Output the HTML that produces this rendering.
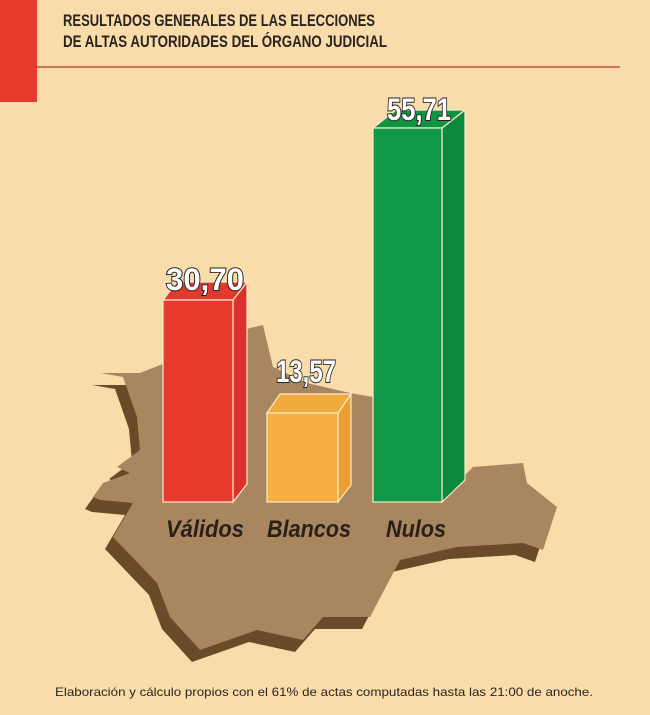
<!DOCTYPE html>
<html><head><meta charset="utf-8"><style>
html,body{margin:0;padding:0;background:#f9dcaa;}
svg{display:block}
</style></head><body>
<svg width="650" height="715" viewBox="0 0 650 715" xmlns="http://www.w3.org/2000/svg">
<rect width="650" height="715" fill="#f9dcaa"/>
<rect x="0" y="0" width="37" height="102" fill="#e8392f"/>
<line x1="37" y1="67" x2="620" y2="67" stroke="#c9474a" stroke-width="1.5"/>
<g font-family="Liberation Sans, sans-serif" font-weight="bold" font-size="17" fill="#2a2420">
<text x="63" y="26" textLength="312" lengthAdjust="spacingAndGlyphs">RESULTADOS GENERALES DE LAS ELECCIONES</text>
<text x="63" y="47" textLength="324" lengthAdjust="spacingAndGlyphs">DE ALTAS AUTORIDADES DEL ÓRGANO JUDICIAL</text>
</g>
<g transform="translate(-8,12)">
<polygon fill="#6b4a2a" points="100,373 140,373 160,365 250,328 263,325 273,367 307,383 350,393 373,397 463,477 473,467 523,463 527,483 557,507 543,550 523,543 457,547 400,560 370,617 323,617 303,640 257,630 200,650 170,617 157,583 113,537 133,503 100,500 93,497 103,483 130,473 117,467 140,450 137,417 123,377"/>
</g>
<polygon fill="#a8865f" points="100,373 140,373 160,365 250,328 263,325 273,367 307,383 350,393 373,397 463,477 473,467 523,463 527,483 557,507 543,550 523,543 457,547 400,560 370,617 323,617 303,640 257,630 200,650 170,617 157,583 113,537 133,503 100,500 93,497 103,483 130,473 117,467 140,450 137,417 123,377"/>
<g stroke="#fde9c8" stroke-width="1.2">
<polygon fill="#d9322b" points="233,300 247,282 247,484 233,502"/>
<polygon fill="#e03a30" points="163,300 177,282 247,282 233,300"/>
<rect x="163" y="300" width="70" height="202" fill="#e8392f"/>
<polygon fill="#e99f32" points="338,413 351,394 351,485 338,502"/>
<polygon fill="#f0aa3c" points="267,413 280,394 351,394 338,413"/>
<rect x="267" y="413" width="71" height="89" fill="#f5b041"/>
<polygon fill="#0b8a3e" points="442,128 465,110 465,480 442,502"/>
<polygon fill="#109442" points="373,128 396,110 465,110 442,128"/>
<rect x="373" y="128" width="69" height="374" fill="#0f9845"/>
</g>
<g font-family="Liberation Sans, sans-serif" font-weight="bold" font-size="24" fill="#fff" stroke="#222" stroke-width="1.5" paint-order="stroke" text-anchor="middle">
<text transform="translate(205,290) scale(1,1.3)" textLength="78" lengthAdjust="spacingAndGlyphs">30,70</text>
<text transform="translate(306,382) scale(1,1.3)" textLength="60" lengthAdjust="spacingAndGlyphs">13,57</text>
<text transform="translate(419,120) scale(1,1.3)" textLength="64" lengthAdjust="spacingAndGlyphs">55,71</text>
</g>
<g font-family="Liberation Sans, sans-serif" font-style="italic" font-weight="bold" font-size="24" fill="#2a2018">
<text x="166" y="537" textLength="78" lengthAdjust="spacingAndGlyphs">Válidos</text>
<text x="267" y="537" textLength="84" lengthAdjust="spacingAndGlyphs">Blancos</text>
<text x="386" y="537" textLength="60" lengthAdjust="spacingAndGlyphs">Nulos</text>
</g>
<text x="55" y="696" font-family="Liberation Sans, sans-serif" font-size="12" fill="#2a2420" textLength="538" lengthAdjust="spacingAndGlyphs">Elaboración y cálculo propios con el 61% de actas computadas hasta las 21:00 de anoche.</text>
</svg>
</body></html>
